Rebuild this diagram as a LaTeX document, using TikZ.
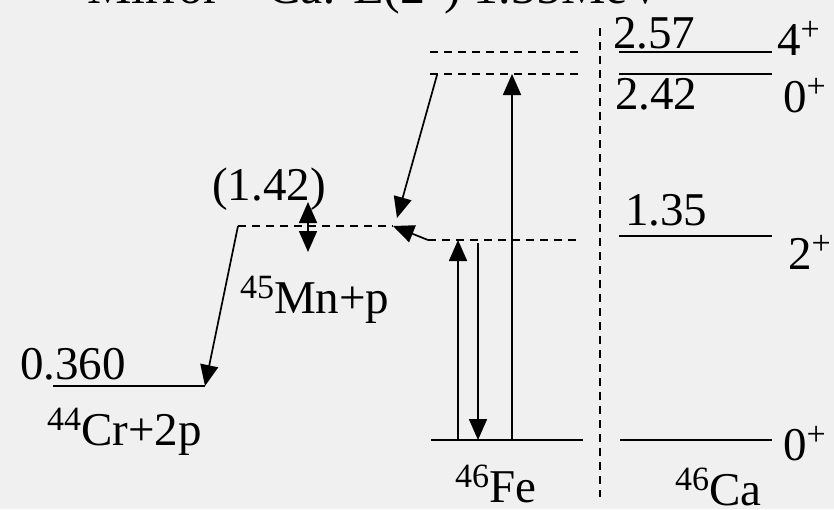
\documentclass[tikz,border=0pt]{standalone}
\usepackage{fontspec}
\setmainfont{Liberation Serif}
\usetikzlibrary{arrows.meta,positioning}
\definecolor{bggray}{RGB}{240,240,240}
\newcommand{\upnum}[1]{\raisebox{15pt}{\fontsize{34}{36}\selectfont #1}}

\begin{document}
\begin{tikzpicture}[x=1pt,y=-1pt,
    font=\fontsize{47}{52}\selectfont,
    level/.style={line width=2pt},
    dlevel/.style={line width=1.6pt,dash pattern=on 8pt off 6pt},
    tip/.tip={Triangle[length=21pt,width=18pt]},
    trans/.style={-tip,line width=1.7pt},
    lbl/.style={inner sep=0pt,anchor=base west}]
  \fill[bggray] (0,0) rectangle (834,509);
  \useasboundingbox (0,0) rectangle (834,509);

  % title (cut by the page edge)
  \node[lbl,font=\fontsize{50}{54}\selectfont] (title) at (87,3)
    {Mirror \upnum{46}Ca: E(2\upnum{+}) 1.35MeV};

  % level end points
  \coordinate (crW) at (53,386);   \coordinate (crE) at (205,386);
  \coordinate (mnW) at (238,226);  \coordinate (mnE) at (393,226);
  \coordinate (fe0W) at (431,440); \coordinate (fe0E) at (583,440);
  \coordinate (fe2W) at (428,240); \coordinate (fe2E) at (580,240);
  \coordinate (fe0bW) at (430,74); \coordinate (fe0bE) at (580,74);
  \coordinate (fe4W) at (430,52);  \coordinate (fe4E) at (580,52);
  \coordinate (ca0W) at (620,440); \coordinate (ca0E) at (772,440);
  \coordinate (ca2W) at (619,236); \coordinate (ca2E) at (772,236);
  \coordinate (ca0bW) at (619,74); \coordinate (ca0bE) at (772,74);
  \coordinate (ca4W) at (619,52);  \coordinate (ca4E) at (772,52);
  \coordinate (divT) at (600,28);  \coordinate (divB) at (600,497);

  % levels
  \draw[level] (crW) -- (crE);
  \draw[dlevel] (mnW) -- (mnE);
  \draw[level] (fe0W) -- (fe0E);
  \draw[dlevel] (fe2W) -- (fe2E);
  \draw[dlevel] (fe0bW) -- (fe0bE);
  \draw[dlevel] (fe4W) -- (fe4E);
  \draw[level] (ca0W) -- (ca0E);
  \draw[level] (ca2W) -- (ca2E);
  \draw[level] (ca0bW) -- (ca0bE);
  \draw[level] (ca4W) -- (ca4E);
  \draw[dlevel] (divT) -- (divB);

  % labels
  \node[lbl] (e360) at (20,379) {0.360};
  \node[lbl] (cr) at (47,445) {\upnum{44}Cr+2p};
  \node[lbl] (e142) at (212,200) {(1.42)};
  \node[lbl] (mn) at (240,313) {\upnum{45}Mn+p};
  \node[lbl] (fe) at (455,502) {\upnum{46}Fe};
  \node[lbl] (ca) at (675,505) {\upnum{46}Ca};
  \node[lbl] (e257) at (613,48) {2.57};
  \node[lbl] (j4) at (777,55) {4\upnum{+}};
  \node[lbl] (e242) at (615,109) {2.42};
  \node[lbl] (j0b) at (783,112) {0\upnum{+}};
  \node[lbl] (e135) at (625,225) {1.35};
  \node[lbl] (j2) at (788,269) {2\upnum{+}};
  \node[lbl] (j0) at (783,460) {0\upnum{+}};

  % transitions
  \coordinate (feA) at (458,440); \coordinate (feAt) at (458,240);
  \coordinate (feB) at (478,243); \coordinate (feBt) at (478,440);
  \coordinate (feC) at (512,440); \coordinate (feCt) at (512,74);
  \coordinate (wid1) at (308,202); \coordinate (wid2) at (308,252);
  \coordinate (mnTop) at (397,218); \coordinate (fe0bS) at (437,75);
  \draw[trans] (mnW) -- (crE);
  \draw[trans] (fe0bS) -- (mnTop);
  \draw[trans] (fe2W) -- (mnE);
  \draw[trans] (feA) -- (feAt);
  \draw[trans] (feB) -- (feBt);
  \draw[trans] (feC) -- (feCt);
  \draw[line width=1.7pt,tip-tip] (wid1) -- (wid2);
\end{tikzpicture}
\end{document}
